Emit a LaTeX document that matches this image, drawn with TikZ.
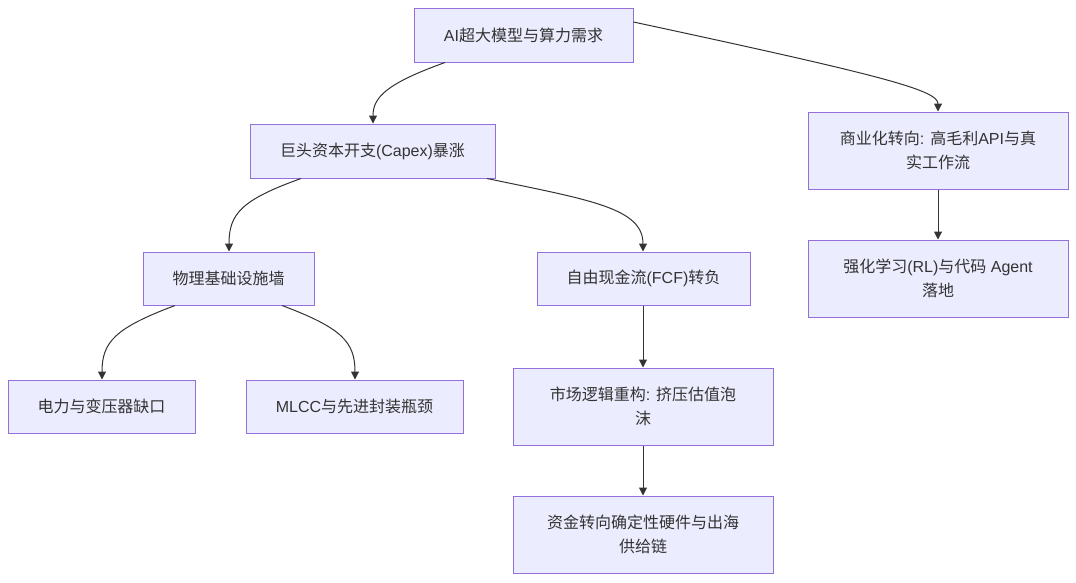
\documentclass[tikz,border=0pt]{standalone}
\usepackage{fontspec}
\setmainfont{Liberation Sans}
\newfontfamily\cjk{Noto Sans CJK SC}
\usetikzlibrary{arrows.meta}
\definecolor{boxfill}{HTML}{ECECFF}
\definecolor{boxline}{HTML}{9370DB}
\definecolor{txt}{HTML}{333333}
\definecolor{edge}{HTML}{333333}
\tikzset{
  box/.style={draw=boxline, fill=boxfill, line width=1pt, text=txt, align=center,
    inner sep=0pt, font=\fontsize{16}{24}\selectfont},
  conn/.style={draw=edge, line width=1pt, -{Triangle[length=8pt,width=8pt]}},
}
\begin{document}
\begin{tikzpicture}[x=1pt,y=-1pt]
\useasboundingbox (0,0) rectangle (1076,582);
\fill[white] (0,0) rectangle (1076,582);
\node[box, minimum width=219pt, minimum height=54pt] (n1) at (523.5,35) {AI{\cjk 超大模型与算力需求}};
\node[box, minimum width=245pt, minimum height=54pt] (n2) at (372.5,151) {{\cjk 巨头资本开支}(Capex){\cjk 暴涨}};
\node[box, minimum width=260pt, minimum height=77pt] (n3) at (938,150.5) {{\cjk 商业化转向}: {\cjk 高毛利}API{\cjk 与真}\\{\cjk 实工作流}};
\node[box, minimum width=171pt, minimum height=53pt] (n4) at (228.5,278.5) {{\cjk 物理基础设施墙}};
\node[box, minimum width=213pt, minimum height=53pt] (n5) at (643.5,278.5) {{\cjk 自由现金流}(FCF){\cjk 转负}};
\node[box, minimum width=260pt, minimum height=77pt] (n6) at (938,278.5) {{\cjk 强化学习}(RL){\cjk 与代码} Agent\\{\cjk 落地}};
\node[box, minimum width=187pt, minimum height=53pt] (n7) at (101.5,406.5) {{\cjk 电力与变压器缺口}};
\node[box, minimum width=217pt, minimum height=53pt] (n8) at (354.5,406.5) {MLCC{\cjk 与先进封装瓶颈}};
\node[box, minimum width=260pt, minimum height=77pt] (n9) at (643,406.5) {{\cjk 市场逻辑重构}: {\cjk 挤压估值泡}\\{\cjk 沫}};
\node[box, minimum width=260pt, minimum height=77pt] (n10) at (643,534.5) {{\cjk 资金转向确定性硬件与出海}\\{\cjk 供给链}};
% edges
\draw[conn] ([xshift=-78.5pt]n1.south) .. controls (385,84) and (373,98) .. ([xshift=0.5pt]n2.north);
\draw[conn] ([yshift=13pt]n1.east) .. controls (880,75) and (938,90) .. (n3.north);
\draw[conn] ([xshift=-71.5pt]n2.south) .. controls (241,200) and (229,214) .. ([xshift=0.5pt]n4.north);
\draw[conn] ([xshift=114.5pt]n2.south) .. controls (590,200) and (643,208) .. ([xshift=-0.5pt]n5.north);
\draw[conn] (n3.south) -- (n6.north);
\draw[conn] ([xshift=-53.5pt]n4.south) .. controls (115,328) and (102,342) .. ([xshift=0.5pt]n7.north);
\draw[conn] ([xshift=53.5pt]n4.south) .. controls (342,328) and (355,342) .. ([xshift=0.5pt]n8.north);
\draw[conn] ([xshift=-0.5pt]n5.south) -- (n9.north);
\draw[conn] (n9.south) -- (n10.north);
\end{tikzpicture}
\end{document}
